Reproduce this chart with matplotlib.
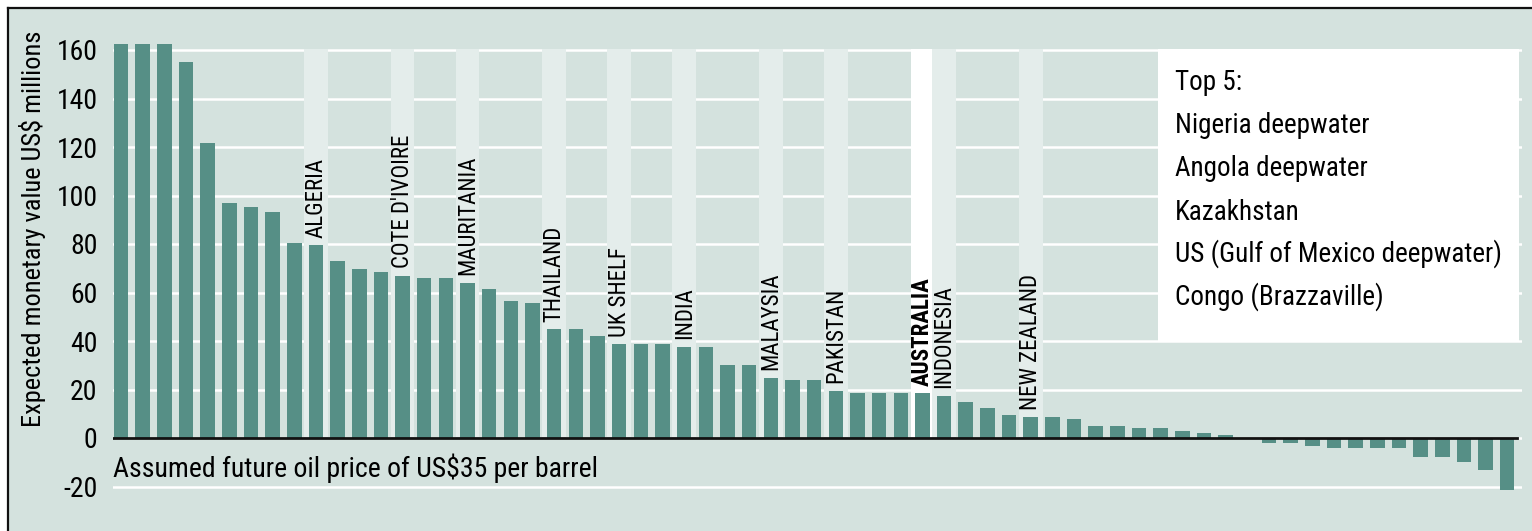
import matplotlib
matplotlib.use("Agg")
import matplotlib.pyplot as plt
import numpy as np
from matplotlib import font_manager as fm
from matplotlib.patches import Rectangle
from matplotlib.lines import Line2D

# ---------------- data ----------------
values = [162.5, 162.5, 162.5, 155.2, 121.5, 96.8, 95.1, 93.2, 80.5, 79.5,
          73.1, 69.6, 68.6, 66.8, 65.9, 65.9, 64.1, 61.3, 56.6, 55.8,
          44.8, 44.8, 42.1, 38.6, 38.6, 38.6, 37.7, 37.7, 30.1, 30.1,
          24.9, 23.9, 23.9, 19.5, 18.4, 18.4, 18.4, 18.4, 17.5, 14.7,
          12.2, 9.5, 8.5, 8.5, 7.7, 4.9, 4.9, 4.0, 4.0, 3.0,
          2.2, 1.2, 0.0, -2.2, -2.2, -3.2, -4.2, -4.2, -4.2, -4.2,
          -7.7, -7.7, -9.8, -13.2, -21.4]
label_slots = [10, 14, 17, 21, 24, 27, 31, 34, 38, 39, 43]
label_names = ["ALGERIA", "COTE D'IVOIRE", "MAURITANIA", "THAILAND", "UK SHELF",
               "INDIA", "MALAYSIA", "PAKISTAN", "AUSTRALIA", "INDONESIA",
               "NEW ZEALAND"]
highlight_name = "AUSTRALIA"
yticks = [-20, 0, 20, 40, 60, 80, 100, 120, 140, 160]
top5_title = "Top 5:"
top5 = ["Nigeria deepwater", "Angola deepwater", "Kazakhstan",
        "US (Gulf of Mexico deepwater)", "Congo (Brazzaville)"]
ylabel = "Expected monetary value US$ millions"
note = "Assumed future oil price of US$35 per barrel"

# ---------------- fonts ----------------
names = {f.name for f in fm.fontManager.ttflist}
fam = None
for cand in ["Liberation Sans Narrow", "Roboto Condensed", "Open Sans Condensed",
             "Noto Sans Condensed", "DejaVu Sans Condensed"]:
    if cand in names:
        fam = cand
        break
scale = 1.0
if fam is None:
    fam = "Liberation Sans"
    scale = 0.82
plt.rcParams["font.family"] = [fam, "DejaVu Sans"]

# ---------------- colours ----------------
BG = "#d4e2de"
BAR = "#568f86"
STRIPE = "#e4edeb"

W, H = 1532, 531
fig = plt.figure(figsize=(W / 100, H / 100), dpi=100, facecolor="white")

# panel background and frame
fig.patches.append(Rectangle((9 / W, 0), 1 - 9 / W, 1 - 9 / H, transform=fig.transFigure,
                             facecolor=BG, edgecolor="none", zorder=-10))
fig.lines.append(Line2D([8 / W, 1], [1 - 8 / H, 1 - 8 / H], transform=fig.transFigure,
                        color="#111111", lw=1.6, zorder=-5))
fig.lines.append(Line2D([8 / W, 8 / W], [0, 1 - 8 / H], transform=fig.transFigure,
                        color="#111111", lw=1.6, zorder=-5))

# axes geometry in pixels
x_left, x_right = 113, 1522
slot_px = 21.66
c1 = 121.0
px_per_unit = 2.425
y0_px = 438.0
ax = fig.add_axes([x_left / W, 0, (x_right - x_left) / W, (H - 10) / H])
ax.set_facecolor("none")
xl0 = 1 + (x_left - c1) / slot_px
xl1 = 1 + (x_right - c1) / slot_px
ax.set_xlim(xl0, xl1)
ax.set_ylim((y0_px - H) / px_per_unit, (y0_px - 10) / px_per_unit)
for s in ax.spines.values():
    s.set_visible(False)
ax.set_xticks([])

x = np.arange(1, len(values) + 1)

# gridlines
for t in yticks:
    ax.axhline(t, color="white", lw=1.8, zorder=0.5)

# highlight stripes
for slot, name in zip(label_slots, label_names):
    col = "white" if name == highlight_name else STRIPE
    ax.add_patch(Rectangle((slot - 0.55, 0), 1.1, 160.5, facecolor=col,
                           edgecolor="none", zorder=1))

# legend box
ax.add_patch(Rectangle((1 + (1158 - c1) / slot_px, 39.6),
                       (1519 - 1158) / slot_px, 121.0,
                       facecolor="white", edgecolor="none", zorder=1))

ax.bar(x, values, width=0.67, color=BAR, zorder=2)
ax.axhline(0, xmin=0, xmax=(1517 - x_left) / (x_right - x_left),
           color="#111111", lw=2.0, zorder=3)

# y ticks
ax.set_yticks(yticks)
ax.set_yticklabels([str(t) for t in yticks], fontsize=20 * scale)
ax.tick_params(axis="y", length=0, pad=11)

# country labels
for slot, name in zip(label_slots, label_names):
    v = values[slot - 1]
    ax.annotate(name, (slot, max(v, 0)), xytext=(0, 5.5), textcoords="offset points",
                rotation=90, ha="center", va="bottom", fontsize=16.5 * scale,
                fontweight="bold" if name == highlight_name else "normal",
                zorder=4)

# y label
fig.text(33 / W, 1 - 229 / H, ylabel, rotation=90, ha="center", va="center",
         fontsize=19 * scale)
# note
fig.text(113 / W, 1 - 477 / H, note, ha="left", va="baseline", fontsize=20 * scale)

# top-5 box text
baselines = [90, 133, 176, 220, 262, 305]
for txt, b in zip([top5_title] + top5, baselines):
    fig.text(1175 / W, 1 - b / H, txt, ha="left", va="baseline", fontsize=19.5 * scale)

fig.savefig("out.png", dpi=100, facecolor="white")
